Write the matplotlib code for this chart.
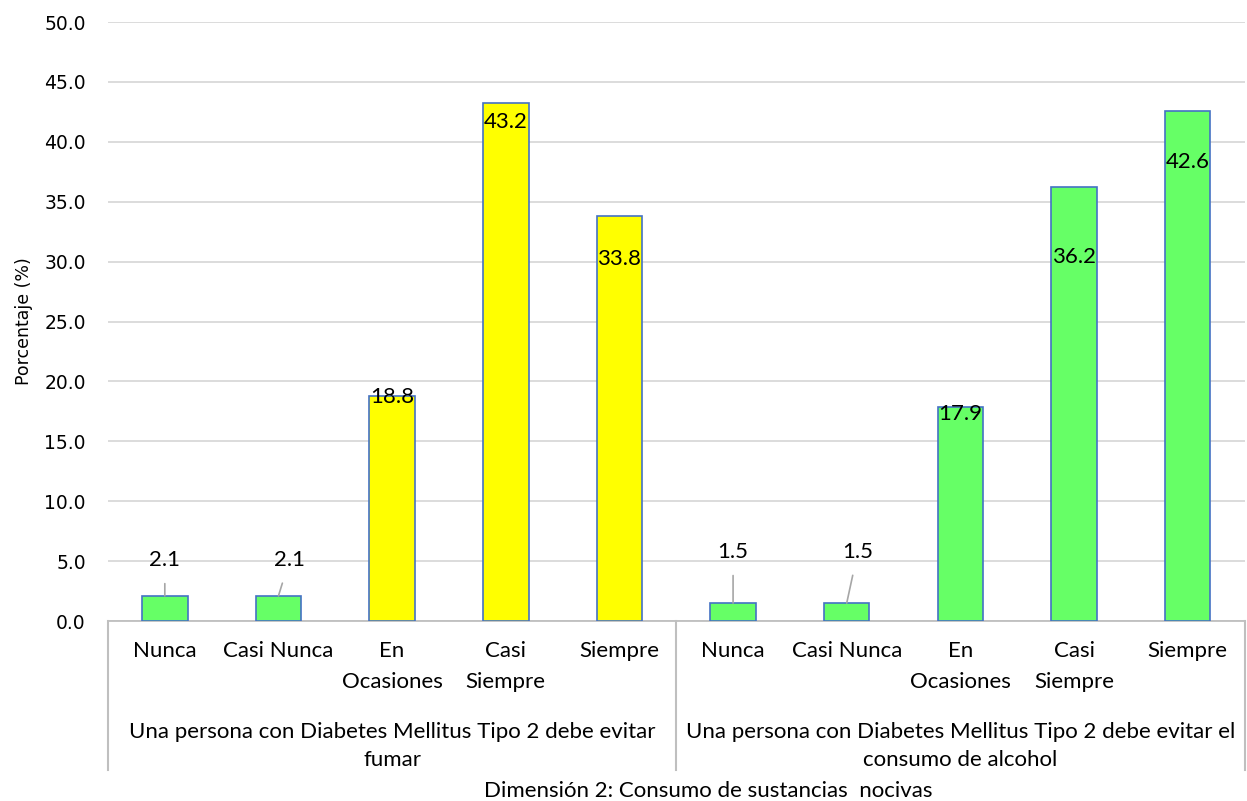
import matplotlib
matplotlib.use("Agg")
import matplotlib.pyplot as plt
import numpy as np

plt.rcParams['font.family'] = ['Lato', 'DejaVu Sans']

categories = ["Nunca", "Casi Nunca", "En\nOcasiones", "Casi\nSiempre", "Siempre",
              "Nunca", "Casi Nunca", "En\nOcasiones", "Casi\nSiempre", "Siempre"]
groups = ["Una persona con Diabetes Mellitus Tipo 2 debe evitar\nfumar",
          "Una persona con Diabetes Mellitus Tipo 2 debe evitar el\nconsumo de alcohol"]
values = [2.1, 2.1, 18.8, 43.2, 33.8, 1.5, 1.5, 17.9, 36.2, 42.6]
bar_colors = ["#66FF66", "#66FF66", "#FFFF00", "#FFFF00", "#FFFF00",
              "#66FF66", "#66FF66", "#66FF66", "#66FF66", "#66FF66"]
yticks = np.arange(0, 50.1, 5)

# label offsets in points (dx, dy) relative to bar top; leader flag
label_offsets = [(0, 26, True), (8, 26, True), (0, -1, False), (0, -13, False), (0, -31, False),
                 (0, 37, True), (8, 37, True), (0, -5, False), (0, -50, False), (0, -37, False)]

fig = plt.figure(figsize=(12.47, 8.01), dpi=100)
ax = fig.add_axes([0.0866, 0.2247, 0.9134 - 0.002, 0.7478])

x = np.arange(len(values))
ax.bar(x, values, width=0.4, color=bar_colors, edgecolor="#4472C4", linewidth=1.2, zorder=3)
ax.set_xlim(-0.5, len(values) - 0.5)
ax.set_ylim(0, 50)
ax.set_yticks(yticks)
ax.set_yticklabels([f"{v:.1f}" for v in yticks], fontsize=13.5, family="DejaVu Sans")
ax.yaxis.grid(True, color="#D9D9D9", linewidth=1.3, zorder=0)
ax.set_axisbelow(True)
ax.tick_params(axis='y', length=0, pad=16)
ax.tick_params(axis='x', length=0, labelbottom=False)
for s in ["top", "right", "left"]:
    ax.spines[s].set_visible(False)
ax.spines["bottom"].set_color("#BFBFBF")
ax.spines["bottom"].set_linewidth(1.3)
ax.set_ylabel("Porcentaje (%)", fontsize=12.5, family="DejaVu Sans", labelpad=8)

FS = 16
for xi, v, (dx, dy, leader) in zip(x, values, label_offsets):
    if leader:
        ax.annotate(f"{v:.1f}", xy=(xi, v), xytext=(dx, dy), textcoords="offset points",
                    ha="center", va="center", fontsize=FS,
                    arrowprops=dict(arrowstyle="-", color="#A6A6A6", lw=1.2,
                                    shrinkA=8, shrinkB=0))
    else:
        ax.annotate(f"{v:.1f}", xy=(xi, v), xytext=(dx, dy), textcoords="offset points",
                    ha="center", va="center", fontsize=FS)

trans = ax.get_xaxis_transform()
for xi, c in zip(x, categories):
    ax.text(xi, -0.034, c, transform=trans, ha="center", va="top", fontsize=FS,
            linespacing=1.68)
ng = len(groups)
per = len(values) // ng
for gi, g in enumerate(groups):
    center = gi * per + (per - 1) / 2
    ax.text(center, -0.168, g, transform=trans, ha="center", va="top", fontsize=FS,
            linespacing=1.55)
for b in [-0.5, per - 0.5, len(values) - 0.5]:
    ax.plot([b, b], [0, -0.249], transform=trans, color="#BFBFBF", lw=1.5, clip_on=False)

fig.text(708 / 1247, 0.0, "Dimensión 2: Consumo de sustancias  nocivas", ha="center",
         va="bottom", fontsize=16)

fig.savefig("out.png", dpi=100)
